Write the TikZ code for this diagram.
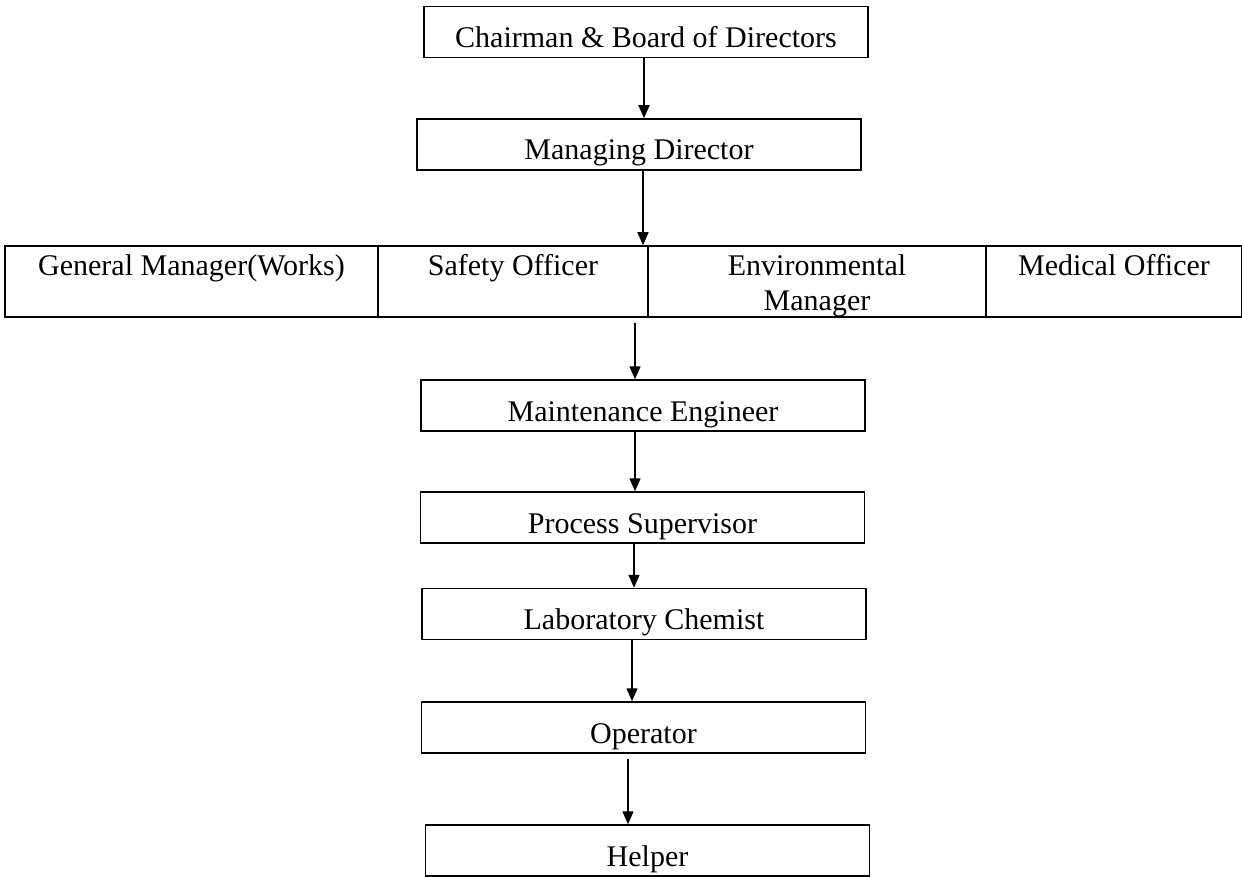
\documentclass[tikz,border=0pt]{standalone}
\usepackage{fontspec}
\setmainfont{Liberation Serif}
\usetikzlibrary{arrows.meta}
\tikzset{
  post/.style={draw, line width=1.5pt, minimum width=444pt, minimum height=51pt,
    inner ysep=0pt, text height=41pt, text depth=10pt},
  cell/.style={draw, line width=1.5pt, minimum height=71pt, align=center,
    inner ysep=0pt, text height=30pt, text depth=41pt,
    font=\fontsize{30}{35}\selectfont},
  arr/.style={line width=1.5pt, -{Triangle[length=13pt,width=11pt]}}
}
\begin{document}
\begin{tikzpicture}[x=1pt,y=-1pt,font=\fontsize{30}{35}\selectfont]
    \useasboundingbox (0,0) rectangle (1242,877);
    % top of the chart
    \node[post] (chair) at (646,32) {Chairman \& Board of Directors};
    \node[post] (md) at (639,144.5) {Managing Director};
    % row of officers
    \node[cell, minimum width=373pt] (gm) at (191.5,281.5) {General Manager(Works)};
    \node[cell, minimum width=270pt] (so) at (513,281.5) {Safety Officer};
    \node[cell, minimum width=338pt, text height=64pt, text depth=7pt] (em) at (817,281.5) {Environmental\\ Manager};
    \node[cell, minimum width=256pt] (mo) at (1114,281.5) {Medical Officer};
    % plant staff
    \node[post] (mte) at (643,405.5) {Maintenance Engineer};
    \node[post] (ps) at (642.5,517.5) {Process Supervisor};
    \node[post] (lab) at (644,614) {Laboratory Chemist};
    \node[post] (op) at (643.5,727.5) {Operator};
    \node[post] (help) at (647.5,850.5) {Helper};
    % arrows
    \draw[arr] ([xshift=-2pt]chair.south) -- ([xshift=-2pt]chair.south |- md.north);
    \draw[arr] ([xshift=4pt]md.south) -- ([xshift=4pt]md.south |- so.north);
    \coordinate (g3) at ([xshift=-8pt]mte.north |- so.south);
    \draw[arr] ([yshift=-5pt]g3) -- ([xshift=-8pt]mte.north);
    \draw[arr] ([xshift=-8pt]mte.south) -- ([xshift=-8pt]mte.south |- ps.north);
    \draw[arr] ([xshift=-8.5pt]ps.south) -- ([xshift=-8.5pt]ps.south |- lab.north);
    \draw[arr] ([xshift=-12pt]lab.south) -- ([xshift=-12pt]lab.south |- op.north);
    \coordinate (g7) at ([xshift=-15.5pt]op.south);
    \draw[arr] ([yshift=-5pt]g7) -- (g7 |- help.north);
\end{tikzpicture}
\end{document}
